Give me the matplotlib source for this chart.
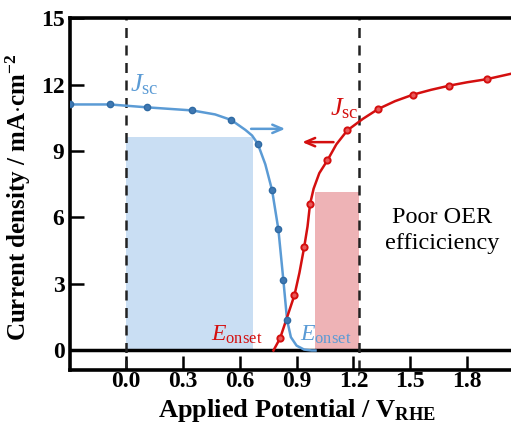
import numpy as np
import matplotlib as mpl
mpl.use('Agg')
from matplotlib import pyplot as plt

mpl.rcParams['font.family'] = 'Liberation Serif'
mpl.rcParams['mathtext.fontset'] = 'custom'
mpl.rcParams['mathtext.rm'] = 'Liberation Serif'
mpl.rcParams['mathtext.it'] = 'Liberation Serif:italic'
mpl.rcParams['mathtext.bf'] = 'Liberation Serif:bold'

BLUE = '#5b9bd5'
BLUE_DARK = '#3f78b2'
RED = '#d40f0f'

# photocathode (blue) markers and line
blue_x = [-0.296, -0.085, 0.11, 0.35, 0.555, 0.695, 0.771, 0.804, 0.83, 0.85]
blue_y = [11.1, 11.1, 10.97, 10.83, 10.4, 9.33, 7.22, 5.46, 3.2, 1.37]
blue_line_x = [-0.296, -0.085, 0.11, 0.35, 0.47, 0.555, 0.63, 0.665, 0.695,
               0.735, 0.771, 0.804, 0.83, 0.85, 0.87, 0.9, 0.94, 0.98, 1.0]
blue_line_y = [11.1, 11.1, 10.97, 10.83, 10.65, 10.4, 9.95, 9.7, 9.33,
               8.4, 7.22, 5.46, 3.2, 1.37, 0.6, 0.22, 0.04, 0.0, 0.0]

# photoanode (red) markers and line
red_x = [0.813, 0.889, 0.94, 0.971, 1.063, 1.168, 1.332, 1.514, 1.707, 1.904]
red_y = [0.55, 2.5, 4.65, 6.6, 8.58, 9.93, 10.9, 11.54, 11.95, 12.24]
red_line_x = [0.778, 0.813, 0.85, 0.889, 0.915, 0.94, 0.958, 0.971, 0.99, 1.02,
              1.063, 1.11, 1.168, 1.25, 1.332, 1.42, 1.514, 1.61, 1.707, 1.8,
              1.904, 2.04]
red_line_y = [0.0, 0.55, 1.5, 2.5, 3.5, 4.65, 5.6, 6.6, 7.3, 8.0,
              8.58, 9.3, 9.93, 10.45, 10.9, 11.25, 11.54, 11.76, 11.95, 12.1,
              12.24, 12.5]

blue_box = (0.0, 0.67, 9.62)
red_box = (0.995, 1.23, 7.15)

xticks = [0.0, 0.3, 0.6, 0.9, 1.2, 1.5, 1.8]
yticks = [0, 3, 6, 9, 12, 15]

fig = plt.figure(figsize=(5.11, 4.34), dpi=100)
ax = fig.add_axes([0.137, 0.1475, 0.863, 0.811])
ax.set_xlim(-0.296, 2.032)
ax.set_ylim(-0.88, 15)

ax.fill_between([blue_box[0], blue_box[1]], 0, blue_box[2],
                facecolor='#c9def3', edgecolor='none', zorder=1)
ax.fill_between([red_box[0], red_box[1]], 0, red_box[2],
                facecolor='#eeb3b6', edgecolor='none', zorder=1)

ax.axhline(0, color='black', lw=2.5, zorder=2)
for xv in (0.0, 1.23):
    ax.axvline(xv, color='#222222', lw=1.8, ls=(0, (4, 3)), zorder=2)

ax.plot(blue_line_x, blue_line_y, color=BLUE, lw=1.8, zorder=3)
ax.plot(blue_x, blue_y, 'o', ms=4.5, mfc=BLUE_DARK, mec='#2f6aa3', zorder=4)
ax.plot(red_line_x, red_line_y, color=RED, lw=1.8, zorder=3)
ax.plot(red_x, red_y, 'o', ms=4.5, mfc='#e85a5a', mec=RED, mew=1.4, zorder=4)

ax.annotate('', xy=(0.84, 10.0), xytext=(0.66, 10.0),
            arrowprops=dict(arrowstyle='->,head_length=0.7,head_width=0.3',
                            color=BLUE, lw=1.8, shrinkA=0, shrinkB=0))
ax.annotate('', xy=(0.93, 9.4), xytext=(1.095, 9.4),
            arrowprops=dict(arrowstyle='->,head_length=0.7,head_width=0.3',
                            color=RED, lw=1.8, shrinkA=0, shrinkB=0))

ax.text(0.02, 11.45, r'$J_{\rm sc}$', color=BLUE, fontsize=19, ha='left', va='bottom')
ax.text(1.23, 10.35, r'$J_{\rm sc}$', color=RED, fontsize=19, ha='right', va='bottom')
ax.text(0.72, 0.2, r'$E_{\rm onset}$', color=RED, fontsize=17, ha='right', va='bottom')
ax.text(0.92, 0.2, r'$E_{\rm onset}$', color=BLUE, fontsize=17, ha='left', va='bottom')
ax.text(1.67, 5.4, 'Poor OER\nefficiciency', fontsize=17.5, ha='center', va='center',
        linespacing=1.3)

ax.set_xticks(xticks)
ax.set_xticklabels(['%.1f' % t for t in xticks])
ax.set_yticks(yticks)
ax.tick_params(direction='in', length=10, width=1.8, labelsize=17, pad=4)
ax.tick_params(axis='x', pad=1)
for lab in ax.get_xticklabels() + ax.get_yticklabels():
    lab.set_fontweight('bold')

for s in ('left', 'bottom', 'top'):
    ax.spines[s].set_linewidth(2.6)
ax.spines['right'].set_visible(False)

ax.set_xlabel(r'Applied Potential / V$_{\mathbf{RHE}}$', fontsize=19,
              fontweight='bold')
ax.set_ylabel(r'Current density / mA$\cdot$cm$^{\mathbf{-2}}$', fontsize=18,
              fontweight='bold')
ax.xaxis.set_label_coords(0.514, -0.078)
ax.yaxis.set_label_coords(-0.085, 0.49)

fig.savefig('out.png', dpi=100)
